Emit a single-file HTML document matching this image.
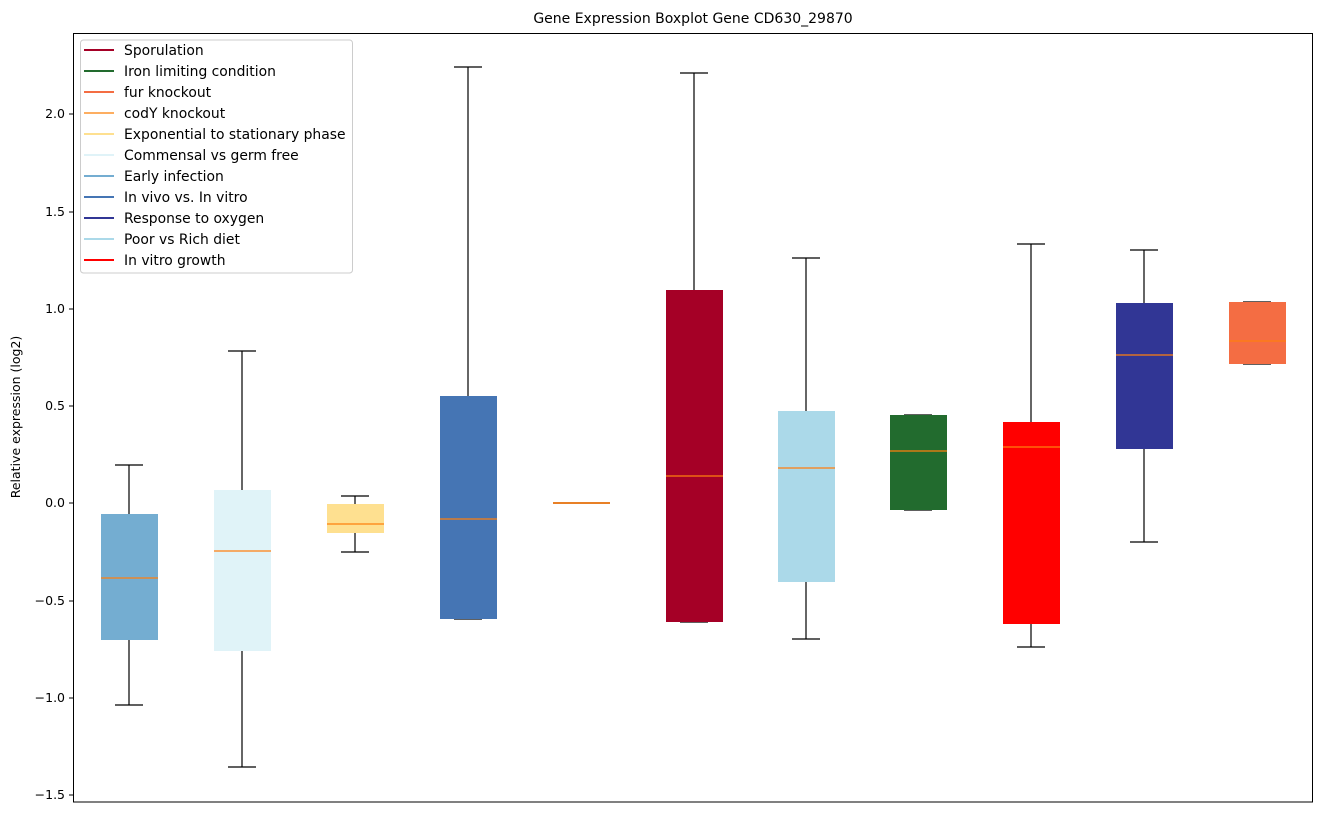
<!DOCTYPE html><html><head><style>body{margin:0;background:#fff}svg{display:block;font-family:"DejaVu Sans","Liberation Sans",sans-serif}</style></head><body>
<svg width="1322" height="813" xmlns="http://www.w3.org/2000/svg">
<text x="693" y="23" font-size="14" text-anchor="middle">Gene Expression Boxplot Gene CD630_29870</text>
<g stroke="#000" stroke-width="1.2" fill="none">
<line x1="129" y1="465" x2="129" y2="514"/><line x1="115" y1="465" x2="143" y2="465"/>
<line x1="129" y1="640" x2="129" y2="705"/><line x1="115" y1="705" x2="143" y2="705"/>
<line x1="242" y1="351" x2="242" y2="490"/><line x1="228" y1="351" x2="256" y2="351"/>
<line x1="242" y1="651" x2="242" y2="767"/><line x1="228" y1="767" x2="256" y2="767"/>
<line x1="355" y1="496" x2="355" y2="504"/><line x1="341" y1="496" x2="369" y2="496"/>
<line x1="355" y1="533" x2="355" y2="552"/><line x1="341" y1="552" x2="369" y2="552"/>
<line x1="468" y1="67" x2="468" y2="396"/><line x1="454" y1="67" x2="482" y2="67"/>
<line x1="454" y1="619" x2="482" y2="619"/>
<line x1="694" y1="73" x2="694" y2="290"/><line x1="680" y1="73" x2="708" y2="73"/>
<line x1="680" y1="622" x2="708" y2="622"/>
<line x1="806" y1="258" x2="806" y2="411"/><line x1="792" y1="258" x2="820" y2="258"/>
<line x1="806" y1="582" x2="806" y2="639"/><line x1="792" y1="639" x2="820" y2="639"/>
<line x1="904" y1="415" x2="932" y2="415"/><line x1="904" y1="510" x2="932" y2="510"/>
<line x1="1031" y1="244" x2="1031" y2="422"/><line x1="1017" y1="244" x2="1045" y2="244"/>
<line x1="1031" y1="624" x2="1031" y2="647"/><line x1="1017" y1="647" x2="1045" y2="647"/>
<line x1="1144" y1="250" x2="1144" y2="303"/><line x1="1130" y1="250" x2="1158" y2="250"/>
<line x1="1144" y1="449" x2="1144" y2="542"/><line x1="1130" y1="542" x2="1158" y2="542"/>
<line x1="1243" y1="302" x2="1271" y2="302"/><line x1="1243" y1="364" x2="1271" y2="364"/>
</g>
<rect x="101" y="514" width="57" height="126" fill="#74add1"/>
<rect x="214" y="490" width="57" height="161" fill="#e0f3f8"/>
<rect x="327" y="504" width="57" height="29" fill="#fee090"/>
<rect x="440" y="396" width="57" height="223" fill="#4575b4"/>
<rect x="553" y="502" width="57" height="2" fill="#c08050"/>
<rect x="666" y="290" width="57" height="332" fill="#a50026"/>
<rect x="778" y="411" width="57" height="171" fill="#abd9e9"/>
<rect x="890" y="415" width="57" height="95" fill="#226b2e"/>
<rect x="1003" y="422" width="57" height="202" fill="#ff0000"/>
<rect x="1116" y="303" width="57" height="146" fill="#313695"/>
<rect x="1229" y="302" width="57" height="62" fill="#f46d43"/>
<g stroke="#ff7f0e" stroke-width="1.2">
<line x1="101" y1="578" x2="158" y2="578"/><line x1="214" y1="551" x2="271" y2="551"/>
<line x1="327" y1="524" x2="384" y2="524"/><line x1="440" y1="519" x2="497" y2="519"/>
<line x1="553" y1="503" x2="610" y2="503"/><line x1="666" y1="476" x2="723" y2="476"/>
<line x1="778" y1="468" x2="835" y2="468"/><line x1="890" y1="451" x2="947" y2="451"/>
<line x1="1003" y1="447" x2="1060" y2="447"/><line x1="1116" y1="355" x2="1173" y2="355"/>
<line x1="1229" y1="341" x2="1286" y2="341"/>
</g>
<rect x="73.5" y="33.5" width="1239" height="768.5" fill="none" stroke="#000" stroke-width="1"/>
<g stroke="#000">
<line x1="69" y1="114" x2="73" y2="114"/><line x1="69" y1="212" x2="73" y2="212"/><line x1="69" y1="309" x2="73" y2="309"/><line x1="69" y1="406" x2="73" y2="406"/><line x1="69" y1="503" x2="73" y2="503"/><line x1="69" y1="601" x2="73" y2="601"/><line x1="69" y1="698" x2="73" y2="698"/><line x1="69" y1="795" x2="73" y2="795"/>
</g>
<g font-size="12.5" text-anchor="end">
<text x="65" y="118">2.0</text><text x="65" y="216">1.5</text><text x="65" y="313">1.0</text><text x="65" y="410">0.5</text><text x="65" y="507">0.0</text><text x="65" y="605">−0.5</text><text x="65" y="702">−1.0</text><text x="65" y="799">−1.5</text>
</g>
<text transform="translate(20,417) rotate(-90)" font-size="12.5" text-anchor="middle">Relative expression (log2)</text>
<rect x="80.5" y="40" width="272" height="233" rx="3" fill="#fff" fill-opacity="0.8" stroke="#ccc"/>
<g font-size="13.9" stroke-width="2">
<line x1="84" y1="50" x2="114" y2="50" stroke="#a50026"/><text x="124" y="55">Sporulation</text>
<line x1="84" y1="71" x2="114" y2="71" stroke="#226b2e"/><text x="124" y="76">Iron limiting condition</text>
<line x1="84" y1="92" x2="114" y2="92" stroke="#f46d43"/><text x="124" y="97">fur knockout</text>
<line x1="84" y1="113" x2="114" y2="113" stroke="#fdae61"/><text x="124" y="118">codY knockout</text>
<line x1="84" y1="134" x2="114" y2="134" stroke="#fee090"/><text x="124" y="139">Exponential to stationary phase</text>
<line x1="84" y1="155" x2="114" y2="155" stroke="#e0f3f8"/><text x="124" y="160">Commensal vs germ free</text>
<line x1="84" y1="176" x2="114" y2="176" stroke="#74add1"/><text x="124" y="181">Early infection</text>
<line x1="84" y1="197" x2="114" y2="197" stroke="#4575b4"/><text x="124" y="202">In vivo vs. In vitro</text>
<line x1="84" y1="218" x2="114" y2="218" stroke="#313695"/><text x="124" y="223">Response to oxygen</text>
<line x1="84" y1="239" x2="114" y2="239" stroke="#abd9e9"/><text x="124" y="244">Poor vs Rich diet</text>
<line x1="84" y1="260" x2="114" y2="260" stroke="#ff0000"/><text x="124" y="265">In vitro growth</text>
</g>
</svg></body></html>
